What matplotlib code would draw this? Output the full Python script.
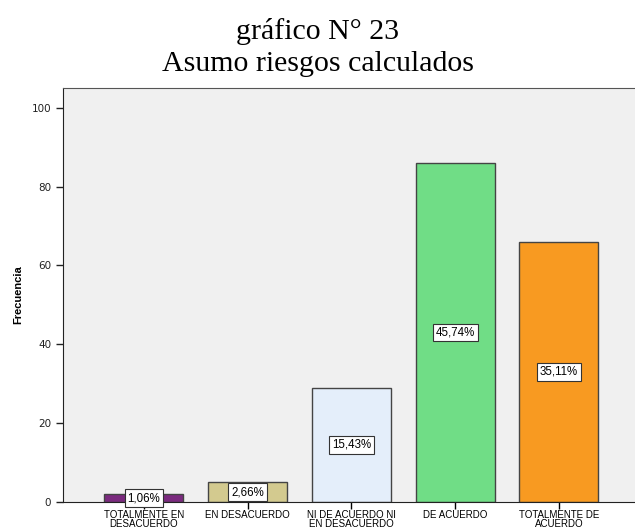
import matplotlib.pyplot as plt

categorias = ["TOTALMENTE EN\nDESACUERDO", "EN DESACUERDO", "NI DE ACUERDO NI\nEN DESACUERDO",
              "DE ACUERDO", "TOTALMENTE DE\nACUERDO"]
frecuencias = [2, 5, 29, 86, 66]
porcentajes = ["1,06%", "2,66%", "15,43%", "45,74%", "35,11%"]
colores = ["#7b2a7f", "#d3ca8f", "#e4eefa", "#70dd86", "#f89a21"]

fig = plt.figure(figsize=(6.35, 5.32), dpi=100)
ax = fig.add_axes([0.0992, 0.0564, 0.905, 0.7782])
ax.set_facecolor("#f0f0f0")

x = list(range(len(categorias)))
ax.bar(x, frecuencias, width=0.76, color=colores, edgecolor="#444444", linewidth=1.0, zorder=2)

# etiquetas de porcentaje en el centro de cada barra
for xi, f, p in zip(x, frecuencias, porcentajes):
    ax.text(xi, f / 2, p, ha="center", va="center", fontsize=8.3, family="Liberation Sans",
            bbox=dict(boxstyle="square,pad=0.25", facecolor="white", edgecolor="#333333", linewidth=0.8),
            zorder=3)

ax.set_xlim(-0.78, 4.76)
ax.set_ylim(0, 105)
ax.set_yticks([0, 20, 40, 60, 80, 100])
ax.set_xticks(x)
ax.set_xticklabels(categorias, fontsize=7, family="Liberation Sans", linespacing=0.85)
ax.tick_params(axis="y", labelsize=7.5, length=5, width=1, colors="#222222")
ax.tick_params(axis="x", length=5, width=1, pad=1)
for s in ax.spines.values():
    s.set_color("#555555")
ax.spines["left"].set_color("#222222")
ax.spines["bottom"].set_color("#222222")

ax.set_ylabel("Frecuencia", fontsize=8, fontweight="bold", family="Liberation Sans", labelpad=6)

fig.text(0.5, 0.94, "gráfico N° 23", ha="center", va="center", fontsize=21.5, family="Liberation Serif")
fig.text(0.5, 0.88, "Asumo riesgos calculados", ha="center", va="center", fontsize=21.5, family="Liberation Serif")

fig.savefig("out.png", dpi=100)
